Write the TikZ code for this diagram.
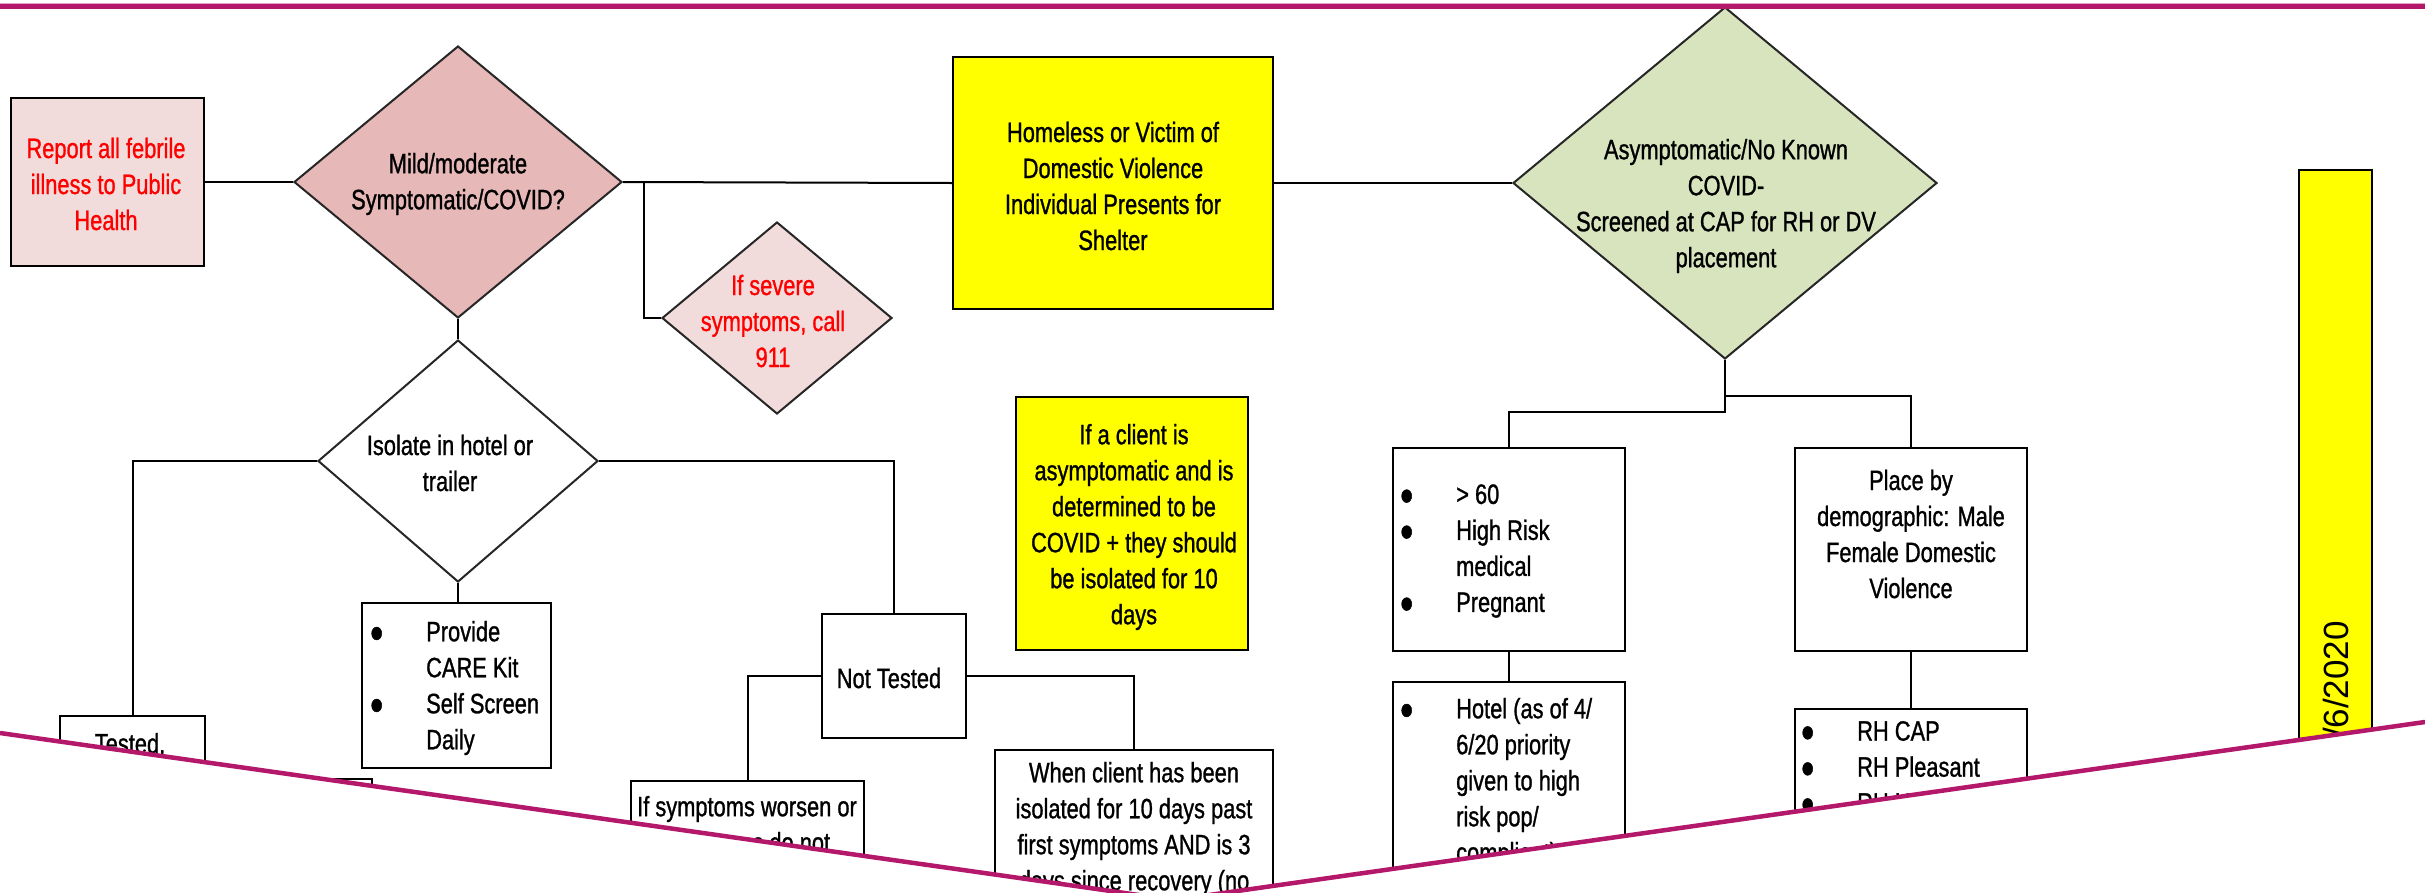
\documentclass[tikz,border=0pt]{standalone}
\usepackage{fontspec}
\setmainfont[FakeStretch=0.78,FakeBold=1]{Liberation Sans}
\newfontfamily\barfont{Liberation Sans}
\usetikzlibrary{shapes.geometric,fit}
\definecolor{mag}{HTML}{B4186A}
\definecolor{pinkL}{HTML}{F2DCDB}
\definecolor{pinkD}{HTML}{E6B8B7}
\definecolor{greenL}{HTML}{D7E4BD}
\definecolor{yel}{HTML}{FFFF00}
\definecolor{redtxt}{HTML}{FF0000}
\newcommand{\bulmark}{\makebox[56pt][l]{\smash{\raisebox{-8pt}{\scalebox{1.7}{•}}}}}
\newcommand{\bulind}{\makebox[56pt][l]{}}
\begin{document}
\begin{tikzpicture}[x=1pt,y=-1pt,
  box/.style={draw=black, line width=2.5pt, inner sep=0pt},
  dia/.style={diamond, draw=black!85, line width=2pt, inner sep=0pt},
  conn/.style={draw=black, line width=2pt},
  txt/.style={inner sep=0pt, align=center, font=\fontsize{28}{36}\selectfont},
  ltxt/.style={inner sep=0pt, align=left, anchor=west, font=\fontsize{28}{36}\selectfont},
]
\useasboundingbox (0,0) rectangle (2425,892);
\clip (0,0) rectangle (2425,892);
\fill[white] (0,0) rectangle (2425,892);

% boxes
\node[box, fill=pinkL, fit={(11,98) (204,266)}] (report) {};
\node[box, fill=yel, fit={(953,57) (1273,309)}] (homeless) {};
\node[box, fill=yel, fit={(1016,397) (1248,650)}] (ifclient) {};
\node[box, fit={(60,716) (205,950)}] (tested) {};
\node[box, fit={(250,779) (372,950)}] (frag) {};
\node[box, fit={(362,603) (551,768)}] (provide) {};
\node[box, fit={(822,614) (966,738)}] (nottested) {};
\node[box, fit={(631,781) (864,950)}] (worsen) {};
\node[box, fit={(995,750) (1273,950)}] (whenclient) {};
\node[box, fit={(1393,448) (1625,651)}] (highrisk) {};
\node[box, fit={(1795,448) (2027,651)}] (placeby) {};
\node[box, fit={(1393,682) (1625,950)}] (hotel) {};
\node[box, fit={(1795,709) (2027,950)}] (rh) {};
\node[box, fill=yel, fit={(2299,170) (2372,950)}] (bar) {};

% diamonds
\node[dia, fill=pinkD, minimum width=328pt, minimum height=272pt] (mild) at (458,182) {};
\node[dia, fill=pinkL, minimum width=230pt, minimum height=192pt] (severe) at (777,318) {};
\node[dia, fill=white, minimum width=280pt, minimum height=242pt] (isolate) at (458,461) {};
\node[dia, fill=greenL, minimum width=424pt, minimum height=352pt] (asym) at (1725,183) {};

% connectors
\coordinate (sevj) at (644,182);
\coordinate (aL) at (1725,412);
\coordinate (aR) at (1725,396);
\draw[conn] (report.east) -- (mild.west);
\draw[conn] (mild.east) -- (homeless.west);
\draw[conn] (sevj) |- (severe.west);
\draw[conn] (homeless.east) -- (asym.west);
\draw[conn] (mild.south) -- (isolate.north);
\draw[conn] (isolate.west) -| (tested.north);
\draw[conn] (isolate.south) -- (isolate.south |- provide.north);
\draw[conn] (isolate.east) -| (nottested.north);
\draw[conn] (nottested.west) -| (worsen.north);
\draw[conn] (nottested.east) -| (whenclient.north);
\draw[conn] (asym.south) -- (aL) -| (highrisk.north);
\draw[conn] (aR) -| (placeby.north);
\draw[conn] (highrisk.south) -- (hotel.north);
\draw[conn] (placeby.south) -- (rh.north);

% texts
\node[txt, text=redtxt] (reportT) at (106,184) {Report all febrile\\illness to Public\\Health};
\node[txt] (mildT) at (458,184) {Mild/moderate\\Symptomatic/COVID?};
\node[txt, text=redtxt] (sevT) at (773,321) {If severe\\symptoms, call\\911};
\node[txt] (homeT) at (1113,186) {Homeless or Victim of\\Domestic Violence\\Individual Presents for\\Shelter};
\node[txt] (asymT) at (1726,206) {Asymptomatic/No Known\\COVID-\\Screened at CAP for RH or DV\\placement};
\node[txt] (isoT) at (450,463) {Isolate in hotel or\\trailer};
\node[ltxt] (provT) at (370,688) {\bulmark Provide\\\bulind CARE Kit\\\bulmark Self Screen\\\bulind Daily};
\node[txt] (ntT) at (889,678) {Not Tested};
\node[txt] (worT) at (747,827) {If symptoms worsen or\\symptoms do not};
\node[txt] (whenT) at (1134,829) {When client has been\\isolated for 10 days past\\first symptoms AND is 3\\days since recovery (no};
\node[txt] (ifcT) at (1134,527) {If a client is\\asymptomatic and is\\determined  to be\\COVID + they should\\be isolated for 10\\days};
\node[ltxt] (hrT) at (1400,551) {\bulmark > 60\\\bulmark High Risk\\\bulind medical\\\bulmark Pregnant};
\node[txt] (pbT) at (1911,534) {Place by\\demographic: Male\\Female Domestic\\Violence};
\node[ltxt] (hotT) at (1400,783) {\bulmark Hotel (as of 4/\\\bulind 6/20 priority\\\bulind given to high\\\bulind risk pop/\\\bulind compliant)};
\node[ltxt] (rhT) at (1801,767) {\bulmark RH CAP\\\bulmark RH Pleasant\\\bulmark RH Hart};
\node[txt] (testT) at (130,745) {Tested,};
\node[inner sep=0pt, rotate=90, anchor=east, font=\barfont\fontsize{35}{40}\selectfont] (barT) at (2336,621) {/6/2020};

% page frame lines and cut
\fill[white] (0,733) -- (1174,900) -- (2425,722) -- (2425,1000) -- (0,1000) -- cycle;
\draw[mag, line width=4.5pt] (0,733) -- (1174,900) -- (2425,722);
\fill[white] (0,-5) rectangle (2425,4);
\draw[mag!40, line width=1.2pt] (0,3.8) -- (2425,3.8);
\draw[mag, line width=4.8pt] (0,6.8) -- (2425,6.8);
\end{tikzpicture}
\end{document}
